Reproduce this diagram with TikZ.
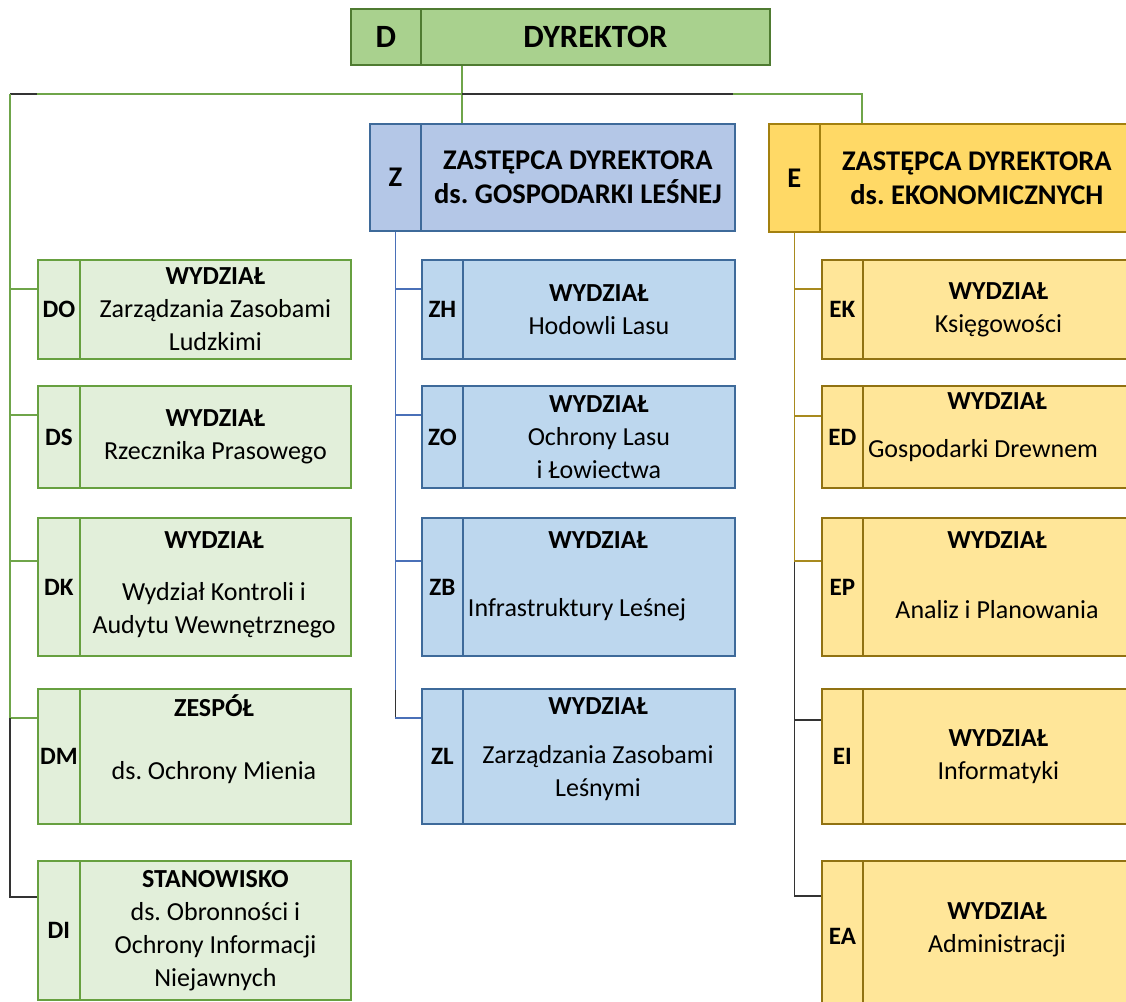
\documentclass[tikz,border=0pt]{standalone}
\usepackage{fontspec}
\setmainfont{Carlito}
\usepackage{tikz}
\usetikzlibrary{positioning}
\frenchspacing

% kolory
\definecolor{dfill}{HTML}{A9D18E}
\definecolor{ddraw}{HTML}{4F7B31}
\definecolor{dsfill}{HTML}{E2EFDA}
\definecolor{dsdraw}{HTML}{67A040}
\definecolor{zfill}{HTML}{B4C7E7}
\definecolor{zdraw}{HTML}{3E6A9A}
\definecolor{zsfill}{HTML}{BDD7EE}
\definecolor{efill}{HTML}{FFD966}
\definecolor{edraw}{HTML}{A3800F}
\definecolor{esfill}{HTML}{FFE699}
\definecolor{esdraw}{HTML}{917212}
\definecolor{gcon}{HTML}{6FA54A}
\definecolor{bcon}{HTML}{4A70B8}
\definecolor{ecol}{HTML}{A88A1E}
\definecolor{kcon}{HTML}{333333}

\tikzset{
  box/.style={draw, inner sep=0pt, line width=1.8pt},
  dtop/.style={box, draw=ddraw, fill=dfill, font=\fontsize{32.5}{36}\selectfont\bfseries},
  ztop/.style={box, draw=zdraw, fill=zfill, font=\fontsize{28.5}{34}\selectfont\bfseries},
  etop/.style={box, draw=edraw, fill=efill, font=\fontsize{28.5}{34}\selectfont\bfseries},
  dsub/.style={box, draw=dsdraw, fill=dsfill, font=\fontsize{25}{28}\selectfont\bfseries},
  zsub/.style={box, draw=zdraw, fill=zsfill, font=\fontsize{25}{28}\selectfont\bfseries},
  esub/.style={box, draw=esdraw, fill=esfill, font=\fontsize{25}{28}\selectfont\bfseries},
  txt/.style={align=center, inner sep=0pt, font=\fontsize{26}{33}\selectfont},
  headtxt/.style={align=center, inner sep=0pt, font=\fontsize{28.5}{34}\selectfont\bfseries},
  gline/.style={draw=gcon, line width=1.8pt},
  bline/.style={draw=bcon, line width=1.8pt},
  eline/.style={draw=ecol, line width=1.8pt},
  kline/.style={draw=kcon, line width=1.8pt}
}

% pole z kodem + pole glowne: nazwa, styl, x lewy, x podzial, x prawy, y gora, y dol, kod
\newcommand{\orgbox}[8]{%
  \node[#2, minimum width=#4-#3, minimum height=#7-#6, anchor=north west] (#1-c) at (#3,#6) {#8};
  \node[#2, minimum width=#5-#4, minimum height=#7-#6, anchor=north west] (#1) at (#4,#6) {};
}

\begin{document}
\begin{tikzpicture}[x=1pt, y=-1pt]
  \useasboundingbox (0,0) rectangle (1126,1001);
  \clip (0,0) rectangle (1126,1001);

  % punkty na linii pod dyrektorem
  \coordinate (jl) at (10,94);
  \coordinate (jm) at (462,94);
  \coordinate (jr) at (862,94);

  % Dyrektor i zastepcy
  \orgbox{dir}{dtop}{350}{420}{769}{8}{64}{D}
  \node[font=\fontsize{32.5}{36}\selectfont\bfseries, inner sep=0pt] (dir-t) at (dir.center) {DYREKTOR};
  \orgbox{zdep}{ztop}{369}{420}{734}{123}{230}{Z}
  \node[headtxt] (zdep-t) at (zdep.center) {ZASTĘPCA DYREKTORA\\ds. GOSPODARKI LEŚNEJ};
  \orgbox{edep}{etop}{768}{819}{1133}{123}{231}{E}
  \node[headtxt] (edep-t) at (edep.center) {ZASTĘPCA DYREKTORA\\ds. EKONOMICZNYCH};

  % komorki podlegle dyrektorowi
  \orgbox{do}{dsub}{37}{79}{350}{259}{358}{DO}
  \orgbox{ds}{dsub}{37}{79}{350}{385}{487}{DS}
  \orgbox{dk}{dsub}{37}{79}{350}{517}{655}{DK}
  \orgbox{dm}{dsub}{37}{79}{350}{688}{823}{DM}
  \orgbox{di}{dsub}{37}{79}{350}{860}{999}{DI}
  \node[txt] (do-t) at (do.center) {\textbf{WYDZIAŁ}\\Zarządzania Zasobami\\Ludzkimi};
  \node[txt] (ds-t) at (ds.center) {\textbf{WYDZIAŁ}\\Rzecznika Prasowego};
  \node[txt] (dk-t1) at (214,540) {\textbf{WYDZIAŁ}};
  \node[txt] (dk-t2) at (214,610) {Wydział Kontroli i\\Audytu Wewnętrznego};
  \node[txt] (dm-t1) at (214,706) {\textbf{ZESPÓŁ}};
  \node[txt] (dm-t2) at (214,773) {ds. Ochrony Mienia};
  \node[txt] (di-t) at (di.center) {\textbf{STANOWISKO}\\ds. Obronności i\\Ochrony Informacji\\Niejawnych};

  % pion gospodarki lesnej
  \orgbox{zh}{zsub}{421}{462}{734}{259}{358}{ZH}
  \orgbox{zo}{zsub}{421}{462}{734}{385}{487}{ZO}
  \orgbox{zb}{zsub}{421}{462}{734}{517}{655}{ZB}
  \orgbox{zl}{zsub}{421}{462}{734}{688}{823}{ZL}
  \node[txt] (zh-t) at (zh.center) {\textbf{WYDZIAŁ}\\Hodowli Lasu};
  \node[txt] (zo-t) at (zo.center) {\textbf{WYDZIAŁ}\\Ochrony Lasu\\i Łowiectwa};
  \node[txt] (zb-t1) at (598,540) {\textbf{WYDZIAŁ}};
  \node[txt] (zb-t2) at (577,610) {Infrastruktury Leśnej};
  \node[txt] (zl-t1) at (598,706) {\textbf{WYDZIAŁ}};
  \node[txt] (zl-t2) at (598,773) {Zarządzania Zasobami\\Leśnymi};

  % pion ekonomiczny
  \orgbox{ek}{esub}{821}{862}{1133}{259}{358}{EK}
  \orgbox{ed}{esub}{821}{862}{1133}{385}{487}{ED}
  \orgbox{ep}{esub}{821}{862}{1133}{517}{655}{EP}
  \orgbox{ei}{esub}{821}{862}{1133}{688}{823}{EI}
  \orgbox{ea}{esub}{821}{862}{1133}{860}{1010}{EA}
  \node[txt] (ek-t) at (ek.center) {\textbf{WYDZIAŁ}\\Księgowości};
  \node[txt] (ed-t1) at (997,401) {\textbf{WYDZIAŁ}};
  \node[txt] (ed-t2) at (983,451) {Gospodarki Drewnem};
  \node[txt] (ep-t1) at (997,540) {\textbf{WYDZIAŁ}};
  \node[txt] (ep-t2) at (997,610) {Analiz i Planowania};
  \node[txt] (ei-t) at (ei.center) {\textbf{WYDZIAŁ}\\Informatyki};
  \node[txt] (ea-t) at (997,930) {\textbf{WYDZIAŁ}\\Administracji};

  % polaczenia od dyrektora
  \draw[gline] (jm |- dir.south) -- (jm |- zdep.north);
  \draw[gline] (jl) -- (jr) -- (jr |- edep.north);
  \draw[kline] (jl) -- (37,94);
  \draw[kline] (jm) -- (733,94);
  \draw[gline] (jl) -- (10,718);
  \foreach \n/\y in {do/289, ds/415, dk/561, dm/718}
    \draw[gline] (10,\y) -- (\n-c.west |- 0,\y);
  \draw[kline] (10,718) -- (10,897) -- (di-c.west |- 0,897);

  % polaczenia od zastepcy Z
  \draw[bline] (zdep-c.south) -- (zdep-c.south |- 0,690);
  \draw[kline] (zdep-c.south |- 0,690) -- (zdep-c.south |- 0,718);
  \foreach \n/\y in {zh/289, zo/415, zb/561, zl/718}
    \draw[bline] (zdep-c.south |- 0,\y) -- (\n-c.west |- 0,\y);

  % polaczenia od zastepcy E
  \draw[eline] (edep-c.south) -- (edep-c.south |- 0,561);
  \draw[kline] (edep-c.south |- 0,561) -- (edep-c.south |- 0,896);
  \foreach \n/\y in {ek/289, ed/416, ep/561}
    \draw[eline] (edep-c.south |- 0,\y) -- (\n-c.west |- 0,\y);
  \foreach \n/\y in {ei/720, ea/896}
    \draw[kline] (edep-c.south |- 0,\y) -- (\n-c.west |- 0,\y);
\end{tikzpicture}
\end{document}
